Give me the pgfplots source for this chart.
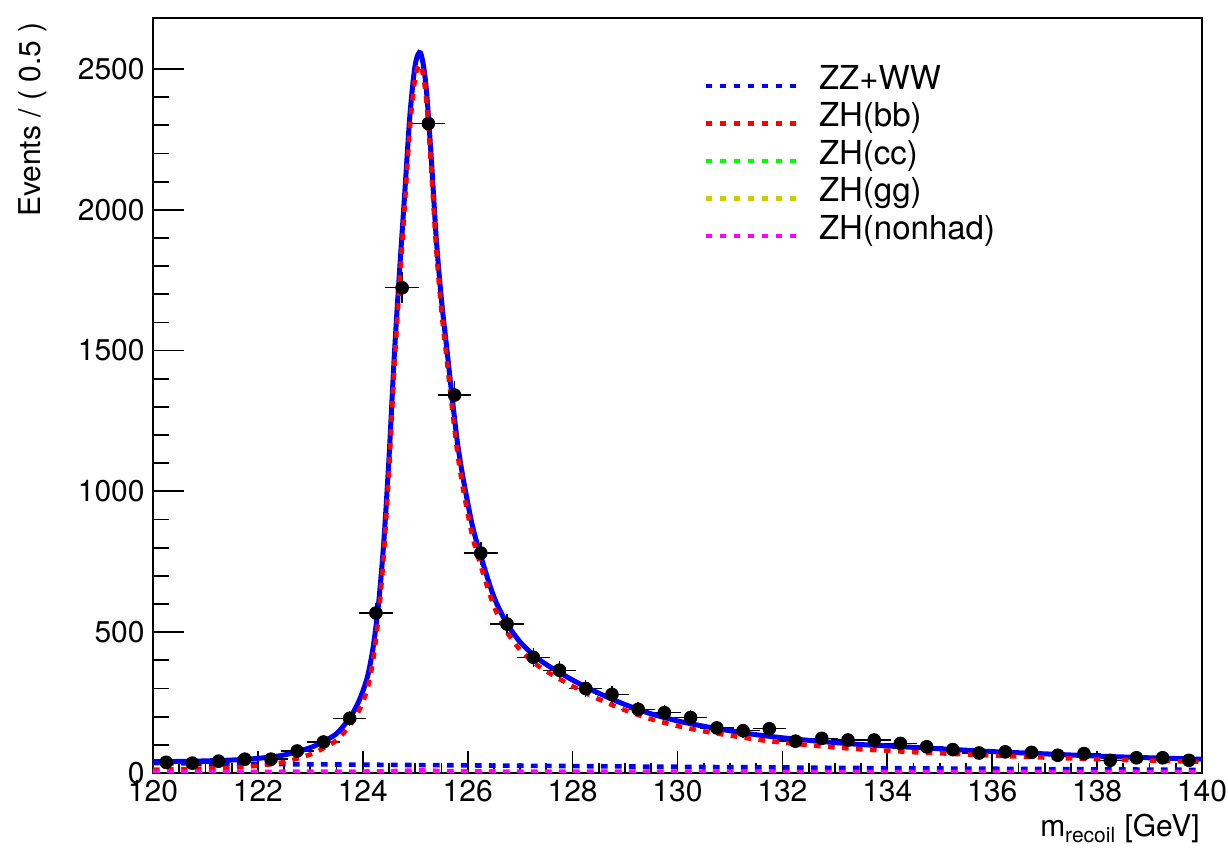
\documentclass[border=0pt]{standalone}
\usepackage{fontspec}
\setmainfont{TeX Gyre Heros}
\usepackage{pgfplots}
\pgfplotsset{compat=1.18}
\definecolor{rootblue}{HTML}{0000FF}
\definecolor{rootred}{HTML}{FF0000}
\definecolor{rootgreen}{HTML}{00FF00}
\definecolor{rootyellow}{HTML}{CCCC00}
\definecolor{rootmagenta}{HTML}{FF00FF}
\tikzset{
  rootdot/.style={line width=2.3pt, dash pattern=on 3.3pt off 3.7pt},
}
\begin{document}
\begin{tikzpicture}
\useasboundingbox (-76.5pt,-39pt) rectangle (537.5pt,386.5pt);
\begin{axis}[
  scale only axis,
  width=524.5pt, height=377.5pt,
  xmin=120, xmax=140, ymin=0, ymax=2681,
  xtick={120,122,...,140},
  ytick={0,500,...,2500},
  minor x tick num=3,
  minor y tick num=4,
  tick align=inside,
  tick pos=left,
  axis line style={line width=0.9pt},
  tick style={black, line width=0.9pt},
  major tick length=15.5pt,
  minor tick length=8pt,
  xtick style={/pgfplots/major tick length=11pt, /pgfplots/minor tick length=5pt},
  ytick style={/pgfplots/major tick length=15.5pt, /pgfplots/minor tick length=8pt},
  /pgf/number format/assume math mode=true,
  /pgf/number format/1000 sep={},
  tick label style={font=\fontsize{15}{18}\selectfont},
  yticklabel style={inner sep=0pt, xshift=-4pt},
  xticklabel style={inner sep=0pt, yshift=-3.5pt},
  xlabel={m\textsubscript{recoil} [GeV]},
  ylabel={Events / ( 0.5 )},
  label style={font=\fontsize{15}{18}\selectfont},
  x label style={at={(axis description cs:1,0)}, anchor=base east, yshift=-32pt, xshift=-1pt, inner sep=0pt},
  y label style={at={(axis description cs:-0.1077,0.9947)}, anchor=base east, inner sep=0pt},
  legend style={at={(axis description cs:0.5186,0.943)}, anchor=north west,
    draw=none, fill=none, font=\fontsize{16.5}{19}\selectfont,
    nodes={inner sep=0pt, text height=12pt, text depth=3.5pt},
    row sep=3.25pt, column sep=10.5pt},
  legend cell align=left,
  legend image code/.code={\draw[#1] (0pt,-2.5pt) -- (45pt,-2.5pt);},
]
% data
\addplot[forget plot, only marks, mark=*, mark size=3.2pt, black,
  error bars/.cd, x dir=both, x explicit, y dir=both, y explicit,
  error bar style={line width=0.7pt, black},
  error mark options={mark size=1.8pt, line width=0.7pt, black}]
  table[x=x, y=y, x error=ex, y error=ey] {
x y ex ey
120.25 38 0.25 6.2
120.75 35 0.25 5.9
121.25 42 0.25 6.5
121.75 49 0.25 7.0
122.25 49 0.25 7.0
122.75 78 0.25 8.8
123.25 110 0.25 10.5
123.75 194 0.25 13.9
124.25 568 0.25 23.8
124.75 1723 0.25 41.5
125.25 2306 0.25 48.0
125.75 1342 0.25 36.6
126.25 781 0.25 27.9
126.75 529 0.25 23.0
127.25 411 0.25 20.3
127.75 365 0.25 19.1
128.25 300 0.25 17.3
128.75 279 0.25 16.7
129.25 226 0.25 15.0
129.75 214 0.25 14.6
130.25 197 0.25 14.0
130.75 160 0.25 12.6
131.25 150 0.25 12.2
131.75 157 0.25 12.5
132.25 113 0.25 10.6
132.75 123 0.25 11.1
133.25 117 0.25 10.8
133.75 117 0.25 10.8
134.25 105 0.25 10.2
134.75 93 0.25 9.6
135.25 83 0.25 9.1
135.75 71 0.25 8.4
136.25 75 0.25 8.7
136.75 73 0.25 8.5
137.25 63 0.25 7.9
137.75 69 0.25 8.3
138.25 45 0.25 6.7
138.75 54 0.25 7.3
139.25 54 0.25 7.3
139.75 45 0.25 6.7
};
% total fit
\addplot[forget plot, rootblue, line width=2.5pt, smooth, no marks] coordinates {
(120.0,40) (120.5,41) (121.0,43) (121.5,46) (122.0,52) (122.5,64) (123.0,90)
(123.25,112) (123.5,140) (123.75,195) (123.9,245) (124.0,290) (124.1,350) (124.2,450)
(124.3,600) (124.4,820) (124.5,1120) (124.6,1480) (124.7,1780) (124.8,2060)
(124.9,2340) (125.0,2515) (125.1,2557) (125.2,2450) (125.3,2200) (125.4,1900)
(125.5,1680) (125.6,1510) (125.7,1340) (125.8,1180) (125.9,1060) (126.0,960)
(126.1,870) (126.25,770) (126.5,625) (126.75,530) (127.0,465) (127.25,420)
(127.5,385) (128.0,330) (128.5,283) (129.0,243) (129.5,210) (130.0,185)
(130.5,166) (131.0,150) (131.5,136) (132.0,125) (132.5,116) (133.0,108)
(133.5,101) (134.0,96) (134.5,91) (135.0,86) (135.5,81) (136.0,76)
(137.0,68) (138.0,60) (139.0,54) (140.0,49)
};
% ZZ+WW
\addplot[rootblue, rootdot, no marks] coordinates {
(120,35) (122,32) (124,29.5) (126,27) (128,24.5) (130,22) (132,19.5)
(134,17) (136,15) (138,13) (140,11)
};
\addlegendentry{ZZ+WW}
% ZH(bb)
\addplot[rootred, rootdot, smooth, no marks] coordinates {
(120.0,12) (120.5,13) (121.0,16) (121.5,19) (122.0,26) (122.5,39) (123.0,66)
(123.25,88) (123.5,116) (123.75,168) (123.9,212) (124.0,252) (124.1,308) (124.2,405)
(124.3,555) (124.4,775) (124.5,1075) (124.6,1435) (124.7,1735) (124.8,2015)
(124.9,2295) (125.0,2470) (125.1,2515) (125.2,2410) (125.3,2160) (125.4,1860)
(125.5,1640) (125.6,1470) (125.7,1300) (125.8,1142) (125.9,1022) (126.0,922)
(126.1,833) (126.25,735) (126.5,592) (126.75,500) (127.0,437) (127.25,394)
(127.5,361) (128.0,308) (128.5,262) (129.0,223) (129.5,191) (130.0,167)
(130.5,148) (131.0,133) (131.5,119) (132.0,108) (132.5,99) (133.0,91)
(133.5,84) (134.0,79) (134.5,74) (135.0,70) (135.5,66) (136.0,62)
(137.0,55) (138.0,49) (139.0,44) (140.0,40)
};
\addlegendentry{ZH(bb)}
% ZH(cc)
\addplot[rootgreen, rootdot, no marks] coordinates {
(120,0.5) (124,1) (124.5,2.5) (125.1,5) (125.7,3) (126.5,1.5) (128,1) (140,0.5)
};
\addlegendentry{ZH(cc)}
% ZH(gg)
\addplot[rootyellow, rootdot, no marks] coordinates {
(120,1) (124,1.3) (124.5,2) (125.1,3.5) (125.7,2.3) (126.5,1.5) (128,1.2) (140,0.8)
};
\addlegendentry{ZH(gg)}
% ZH(nonhad)
\addplot[rootmagenta, rootdot, no marks] coordinates {
(120,4) (123,4.3) (124,5) (124.5,6.5) (125.1,9) (125.7,6.5) (126.5,5.2)
(128,4.6) (132,4.2) (140,4)
};
\addlegendentry{ZH(nonhad)}
\end{axis}
\end{tikzpicture}
\end{document}
